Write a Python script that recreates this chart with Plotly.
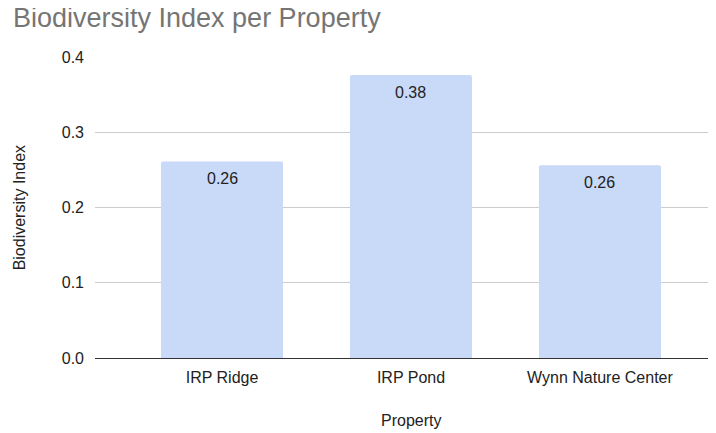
import plotly.graph_objects as go

# Datos
propiedades = ["IRP Ridge", "IRP Pond", "Wynn Nature Center"]
indice = [0.261, 0.376, 0.256]
etiquetas = ["0.26", "0.38", "0.26"]
ticks_y = [0.0, 0.1, 0.2, 0.3, 0.4]
ticks_y_texto = ["0.0", "0.1", "0.2", "0.3", "0.4"]

fuente = "Liberation Sans, Arial, sans-serif"
color_texto = "#222222"

# La página añade 8 px de margen al body, así que la figura se reduce en esa cantidad
ancho, alto = 708, 425

fig = go.Figure(go.Bar(
    x=propiedades,
    y=indice,
    width=0.646,
    marker=dict(color="#c9daf8", cornerradius=2, line=dict(width=0)),
    hoverinfo="skip",
))

# Etiquetas de valor dentro de la barra, cerca del borde superior
for p, v, t in zip(propiedades, indice, etiquetas):
    fig.add_annotation(
        x=p, y=v, text=t, showarrow=False,
        yanchor="middle", yshift=-17,
        font=dict(family=fuente, size=16, color=color_texto),
    )

# Títulos de los ejes como anotaciones para ubicarlos con precisión
fig.add_annotation(
    text="Biodiversity Index", textangle=-90, showarrow=False,
    xref="paper", yref="paper", x=-0.121, y=0.5,
    xanchor="center", yanchor="middle",
    font=dict(family=fuente, size=16, color=color_texto),
)
fig.add_annotation(
    text="Property", showarrow=False,
    xref="paper", yref="paper", x=(411 - 95) / 621, y=-0.206,
    xanchor="center", yanchor="middle",
    font=dict(family=fuente, size=16, color=color_texto),
)

fig.update_layout(
    width=ancho, height=alto,
    margin=dict(l=87, r=0, t=49, b=75, autoexpand=False),
    paper_bgcolor="white",
    plot_bgcolor="white",
    showlegend=False,
    title=dict(
        text="Biodiversity Index per Property",
        x=5 / ancho, xanchor="left", xref="container",
        y=1 - 10 / alto, yanchor="middle", yref="container",
        font=dict(family=fuente, size=27, color="#757575"),
    ),
    font=dict(family=fuente, size=16, color=color_texto),
)

fig.update_xaxes(
    range=[-0.672, 2.614],
    automargin=False,
    showgrid=False,
    showline=False,
    ticks="",
    ticklabelstandoff=8,
    tickfont=dict(size=16, color=color_texto),
)

fig.update_yaxes(
    range=[0, 0.4],
    automargin=False,
    tickvals=ticks_y,
    ticktext=ticks_y_texto,
    showgrid=True,
    gridcolor="#cccccc",
    gridwidth=1,
    zeroline=True,
    zerolinecolor="#333333",
    zerolinewidth=1,
    showline=False,
    ticks="",
    ticklabelstandoff=10,
    tickfont=dict(size=16, color=color_texto),
)

fig.write_html("out.html")
